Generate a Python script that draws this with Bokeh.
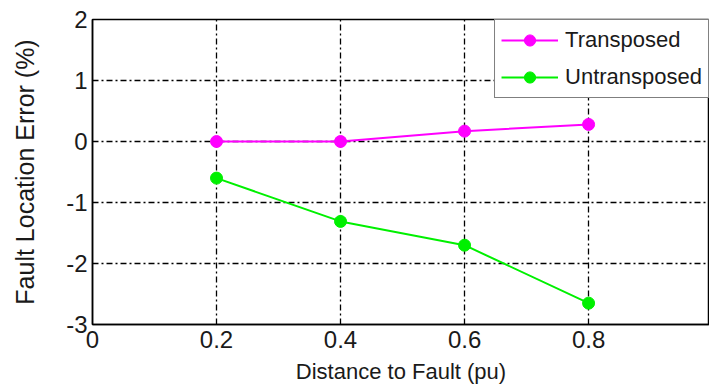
from bokeh.plotting import figure
from bokeh.models import Range1d, FixedTicker, Legend, LegendItem
from bokeh.embed import file_html
from bokeh.resources import INLINE

distance = [0.2, 0.4, 0.6, 0.8]
transposed = [0.0, 0.0, 0.17, 0.28]
untransposed = [-0.6, -1.31, -1.7, -2.65]
x_ticks = [0, 0.2, 0.4, 0.6, 0.8]
y_ticks = [-3, -2, -1, 0, 1, 2]
y_tick_labels = ["-3", "-2", "-1", "0", "1", "2"]

FONT = "Liberation Sans"

p = figure(width=709, height=386, output_backend="svg", toolbar_location=None,
           x_range=Range1d(0, 0.995), y_range=Range1d(-3, 2),
           min_border_left=92, min_border_right=0, min_border_top=19, min_border_bottom=62)

p.outline_line_color = "black"
p.outline_line_width = 1.5

for ax in (p.xaxis, p.yaxis):
    ax.axis_line_color = "black"
    ax.axis_line_width = 1.5
    ax.major_tick_in = 5
    ax.major_tick_out = 0
    ax.minor_tick_line_color = None
    ax.major_label_text_font = FONT
    ax.major_label_text_font_size = "24px"
    ax.major_label_text_color = "#1a1a1a"
    ax.axis_label_text_font = FONT
    ax.axis_label_text_font_style = "normal"
    ax.axis_label_text_color = "#1a1a1a"

p.xaxis.axis_label_text_font_size = "22px"
p.yaxis.axis_label_text_font_size = "25px"
p.xaxis.ticker = FixedTicker(ticks=x_ticks)
p.yaxis.ticker = FixedTicker(ticks=y_ticks)
p.xaxis.major_label_overrides = {0: "0"}
p.yaxis.major_label_overrides = {t: s for t, s in zip(y_ticks, y_tick_labels)}
p.xaxis.axis_label = "Distance to Fault (pu)"
p.yaxis.axis_label = "Fault Location Error (%)"
p.xaxis.major_label_standoff = 6
p.yaxis.major_label_standoff = 5
p.xaxis.axis_label_standoff = 8
p.yaxis.axis_label_standoff = 24

p.xgrid.ticker = FixedTicker(ticks=[0.2, 0.4, 0.6, 0.8])
p.ygrid.ticker = FixedTicker(ticks=[-2, -1, 0, 1])
for g in (p.xgrid, p.ygrid):
    g.grid_line_color = "black"
    g.grid_line_width = 1.3
    g.grid_line_dash = "6 3 2 3"

l1 = p.line(distance, transposed, line_color="#ff00ff", line_width=2)
c1 = p.scatter(distance, transposed, size=12, fill_color="#ff00ff", line_color="#ff00ff")
l2 = p.line(distance, untransposed, line_color="#00f000", line_width=2)
c2 = p.scatter(distance, untransposed, size=12, fill_color="#00f000", line_color="#00f000")

legend = Legend(items=[LegendItem(label="Transposed", renderers=[l1, c1]),
                       LegendItem(label="Untransposed", renderers=[l2, c2])],
                location="top_right")
legend.label_text_font = FONT
legend.label_text_font_size = "22px"
legend.label_text_color = "#1a1a1a"
legend.label_height = 28
legend.glyph_height = 28
legend.border_line_color = "black"
legend.border_line_width = 1.5
legend.margin = 0
legend.padding = 6
legend.spacing = 9
legend.glyph_width = 57
legend.label_standoff = 7
legend.background_fill_alpha = 1
p.add_layout(legend)

open("out.html", "w").write(file_html(p, INLINE))
